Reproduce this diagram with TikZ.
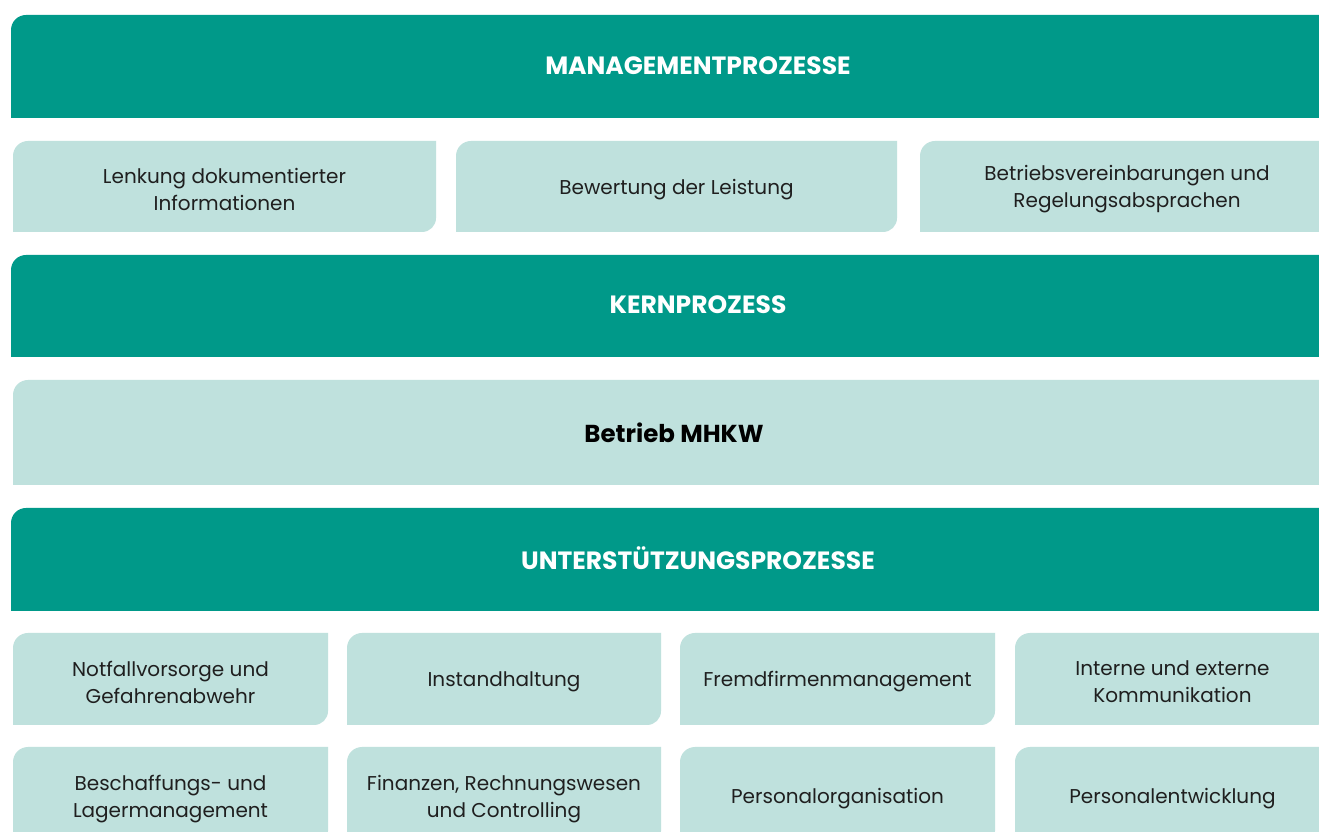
\documentclass[tikz,border=0pt]{standalone}
\usepackage{fontspec}
\setmainfont{Poppins}
\usetikzlibrary{calc}
\definecolor{procteal}{RGB}{0,153,137}
\definecolor{proclight}{RGB}{191,225,221}
\tikzset{x=1pt,y=1pt,
  bartext/.style={text=white,font=\bfseries\fontsize{25}{28}\selectfont},
  boxtext/.style={text=black!88,align=center,yshift=-3pt,font=\fontsize{20}{27}\selectfont},
  kerntext/.style={text=black,font=\bfseries\fontsize{24.5}{28}\selectfont}}
% leaf shape: round top left and bottom right
\newcommand{\leafpath}[5]{\fill[#1] (#2,#5) -- (#2,#3-15) arc[start angle=180,end angle=90,radius=15pt] -- (#4,#3) -- (#4,#5+14) arc[start angle=0,end angle=-90,radius=14pt] -- cycle;}
% name, left, top, right, bottom, text
\newcommand{\procbar}[6]{\leafpath{procteal}{#2}{#3}{#4}{#5}
  \node[bartext] (#1) at ({(#2+#4)/2},{(#3+#5)/2+1}) {#6};}
\newcommand{\procbox}[7][boxtext]{\leafpath{proclight}{#3}{#4}{#5}{#6}
  \node[#1] (#2) at ({(#3+#5)/2},{(#4+#6)/2}) {#7};}

\begin{document}
\begin{tikzpicture}
\clip (0,0) rectangle (1319,832);
\fill[white] (0,0) rectangle (1319,832);
\procbar{mgmt}{11}{817}{1385}{714}{MANAGEMENTPROZESSE}
\procbox{lenkung}{13}{691}{436}{600}{Lenkung dokumentierter\\Informationen}
\procbox{bewertung}{456}{691}{897}{600}{Bewertung der Leistung}
\procbox{betriebsv}{920}{691}{1334}{600}{Betriebsvereinbarungen und\\Regelungsabsprachen}
\procbar{kern}{11}{577}{1385}{475}{KERNPROZESS}
\procbox[kerntext]{mhkw}{13}{452}{1335}{347}{Betrieb MHKW}
\procbar{support}{11}{324}{1385}{221}{UNTERSTÜTZUNGSPROZESSE}
\procbox{notfall}{13}{199}{328}{107}{Notfallvorsorge und\\Gefahrenabwehr}
\procbox{instand}{347}{199}{661}{107}{Instandhaltung}
\procbox{fremd}{680}{199}{995}{107}{Fremdfirmenmanagement}
\procbox{komm}{1015}{199}{1330}{107}{Interne und externe\\Kommunikation}
\procbox{beschaff}{13}{85}{328}{-13}{Beschaffungs- und\\Lagermanagement}
\procbox{finanzen}{347}{85}{661}{-13}{Finanzen, Rechnungswesen\\und Controlling}
\procbox{personalorg}{680}{85}{995}{-13}{Personalorganisation}
\procbox{personalent}{1015}{85}{1330}{-13}{Personalentwicklung}
\end{tikzpicture}
\end{document}
